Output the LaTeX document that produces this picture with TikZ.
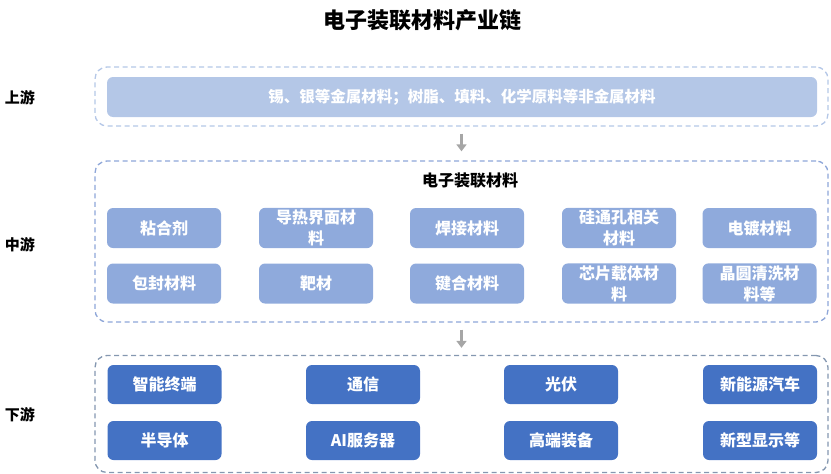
\documentclass[tikz,border=0pt]{standalone}
\usepackage{fontspec}
\newfontfamily\cjk{Noto Sans CJK SC}
\usetikzlibrary{arrows.meta}
\definecolor{upfill}{HTML}{B4C7E7}
\definecolor{midfill}{HTML}{8FAADC}
\definecolor{downfill}{HTML}{4472C4}
\definecolor{midline}{HTML}{8EA6D8}
\definecolor{downline}{HTML}{8497B0}
\definecolor{arrowgray}{HTML}{A6A6A6}
\begin{document}
\begin{tikzpicture}[x=1pt,y=-1pt]
    \tikzset{frame/.style = {draw,line width=1.3pt,dash pattern=on 5pt off 3.5pt,rounded corners=12pt,minimum width=733pt}}
    \tikzset{item/.style = {rounded corners=6pt,minimum width=114pt,minimum height=40pt,inner sep=2pt,align=center,text=white,font=\cjk\bfseries\fontsize{16}{21}\selectfont}}
    \tikzset{tier/.style = {font=\cjk\bfseries\fontsize{15}{18}\selectfont}}
    \tikzset{flow/.style = {arrowgray,line width=3.5pt,-{Triangle[width=10pt,length=7pt]}}}
    \useasboundingbox (0,0) rectangle (831,474);
    \node[font=\cjk\bfseries\fontsize{22}{26}\selectfont] (title) at (422,20) {电子装联材料产业链};
    % tiers on the left
    \node[tier] (up) at (20,98) {上游};
    \node[tier] (mid) at (20,245) {中游};
    \node[tier] (down) at (20,415) {下游};
    % dashed frames
    \node[frame,draw=upfill,minimum height=59pt] (upframe) at (461.5,96.5) {};
    \node[frame,draw=midline,minimum height=161pt] (midframe) at (461.5,241.5) {};
    \node[frame,draw=downline,minimum height=117pt] (downframe) at (461.5,414) {};
    % upstream
    \node[item,fill=upfill,minimum width=710pt,font=\cjk\bfseries\fontsize{15.5}{18}\selectfont] (raw) at (462,97) {锡、银等金属材料；树脂、填料、化学原料等非金属材料};
    % midstream
    \node[font=\cjk\bfseries\fontsize{16}{20}\selectfont] (midtitle) at (470,181) {电子装联材料};
    \node[item,fill=midfill] (m1) at (164,228) {粘合剂};
    \node[item,fill=midfill] (m2) at (316,228) {导热界面材\\料};
    \node[item,fill=midfill] (m3) at (467,228) {焊接材料};
    \node[item,fill=midfill] (m4) at (619,228) {硅通孔相关\\材料};
    \node[item,fill=midfill] (m5) at (759.5,228) {电镀材料};
    \node[item,fill=midfill] (m6) at (164,283.5) {包封材料};
    \node[item,fill=midfill] (m7) at (316,283.5) {靶材};
    \node[item,fill=midfill] (m8) at (467,283.5) {键合材料};
    \node[item,fill=midfill] (m9) at (619,283.5) {芯片载体材\\料};
    \node[item,fill=midfill] (m10) at (759.5,283.5) {晶圆清洗材\\料等};
    % downstream
    \node[item,fill=downfill,minimum height=39pt] (d1) at (164.5,384.5) {智能终端};
    \node[item,fill=downfill,minimum height=39pt] (d2) at (363,384.5) {通信};
    \node[item,fill=downfill,minimum height=39pt] (d3) at (561,384.5) {光伏};
    \node[item,fill=downfill,minimum height=39pt] (d4) at (760,384.5) {新能源汽车};
    \node[item,fill=downfill,minimum height=39pt] (d5) at (164.5,440.5) {半导体};
    \node[item,fill=downfill,minimum height=39pt] (d6) at (363,440.5) {AI服务器};
    \node[item,fill=downfill,minimum height=39pt] (d7) at (561,440.5) {高端装备};
    \node[item,fill=downfill,minimum height=39pt] (d8) at (760,440.5) {新型显示等};
    % arrows between tiers
    \draw[flow,shorten <=7pt,shorten >=9pt] (upframe.south) -- (midframe.north);
    \draw[flow,shorten <=7pt,shorten >=7pt] (midframe.south) -- (downframe.north);
\end{tikzpicture}
\end{document}
